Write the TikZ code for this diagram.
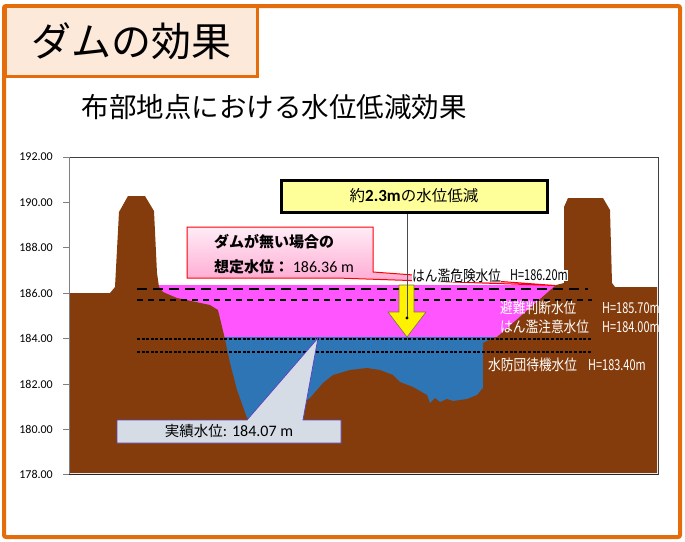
\documentclass[tikz,border=0pt]{standalone}
\usepackage{graphicx}
\usepackage{fontspec}
\setmainfont{Noto Sans CJK JP}
\newfontfamily\numfont{Carlito}
\usetikzlibrary{calc,positioning}

\definecolor{frameorange}{RGB}{228,108,10}
\definecolor{titlefill}{RGB}{253,233,217}
\definecolor{ground}{RGB}{132,60,12}
\definecolor{flood}{RGB}{255,85,255}
\definecolor{river}{RGB}{46,117,182}
\definecolor{notefill}{RGB}{214,220,229}
\definecolor{noteline}{RGB}{88,70,190}
\definecolor{memo}{RGB}{255,255,153}
\definecolor{arrowline}{RGB}{120,120,60}
\definecolor{pinktop}{RGB}{255,236,246}
\definecolor{pinkbot}{RGB}{255,165,208}

\newcommand{\tallname}[1]{\scalebox{1}[1.18]{#1}}
\newcommand{\tallval}[1]{\scalebox{0.86}[1.18]{#1}}

\tikzset{
  lvl/.style={font=\fontsize{12.7}{14}\selectfont, inner sep=0pt, anchor=west},
  ticklabel/.style={font=\numfont\fontsize{12}{14}\selectfont, anchor=east, inner sep=0pt}
}

\begin{document}
\begin{tikzpicture}[x=1pt,y=-1pt]
\useasboundingbox (0,0) rectangle (685,541);

% frame and headings
\draw[frameorange, line width=4pt, rounded corners=2pt] (4,6) rectangle (680,537);
\node[draw=frameorange, line width=3pt, fill=titlefill, minimum width=252pt, minimum height=70pt,
  font=\fontsize{40}{44}\selectfont, inner sep=0pt] (title) at (131,41) {ダムの効果};
\node[font=\fontsize{27.5}{30}\selectfont] (sub) at (274,107) {布部地点における水位低減効果};

% water: without dam, then observed
\fill[flood] (155,285.2) rectangle (560,337.1);
\fill[river] (215,337.1) rectangle (500,421);

% ground section
\fill[ground] (70,473) -- (70,293) -- (110,293) -- (115,287) -- (119,212) -- (128,196)
  -- (145,196) -- (154,211) -- (157,273) -- (159,287) -- (163,292) -- (177,298)
  -- (210,305) -- (218,310) -- (224,335) -- (230,363) -- (237,390) -- (247,418)
  -- (260,416) -- (282,412) -- (300,405) -- (310,398) -- (323,383) -- (333,375)
  -- (350,370) -- (367,368) -- (380,370) -- (393,375) -- (400,382) -- (413,387)
  -- (427,395) -- (430,403) -- (435,398) -- (440,402) -- (447,399) -- (453,401)
  -- (467,399) -- (477,395) -- (483,388) -- (483,343) -- (493,338) -- (497,337)
  -- (556,285) -- (564,283) -- (564,207) -- (568,198) -- (603,198) -- (610,210)
  -- (612,283) -- (615,287) -- (657,287) -- (657,473) -- cycle;

% level lines
\draw[line width=1.9pt, dash pattern=on 10pt off 6pt] (137,288.8) -- (588,288.8);
\draw[line width=1.7pt, dash pattern=on 6pt off 5pt] (137,300.1) -- (592,300.1);
\draw[line width=1.9pt, dash pattern=on 3pt off 1.6pt] (137,338.7) -- (592,338.7);
\draw[line width=1.9pt, dash pattern=on 3pt off 1.6pt] (137,352.4) -- (592,352.4);

% axes
\draw[black!75, line width=0.6pt] (69,157) -- (658,157) -- (658,474.5);
\draw[gray, line width=1pt] (69,157) -- (69,474.5);
\draw[black!85, line width=1.2pt] (63,474.5) -- (658,474.5);
\foreach \v/\y in {178/474.5,180/429.6,182/384.2,184/338.7,186/293.3,188/247.9,190/202.5,192/157.1}{
  \draw[gray, line width=1pt] (63,\y) -- (69,\y);
  \node[ticklabel] at (53,\y) {\v.00};
}

% lowering arrow
\draw[arrowline, fill=yellow, line width=0.6pt] (399,285) -- (414,285) -- (414,312) -- (426,312)
  -- (407,337) -- (388,312) -- (399,312) -- cycle;
\coordinate (tip) at (407,318);
\node[draw=black, line width=3pt, fill=memo, minimum width=266pt, minimum height=32pt,
  font=\fontsize{15.5}{17}\selectfont] (reduce) at (414,196)
  {約{\numfont\bfseries\fontsize{17}{19}\selectfont 2.3m}の水位低減};

% callout: level without dam
\path[draw=red, line width=1pt, top color=pinktop, bottom color=pinkbot]
  (187,227) -- (373,227) -- (373,272) -- (555,285.5) -- (337,278) -- (187,278) -- cycle;
\node[font=\bfseries\fontsize{15}{17}\selectfont, anchor=west, inner sep=0pt] (nodam1) at (214,242) {ダムが無い場合の};
\node[font=\bfseries\fontsize{15}{17}\selectfont, anchor=west, inner sep=0pt] (nodam2) at (214,267)
  {想定水位：{\mdseries\numfont\fontsize{16}{18}\selectfont\ 186.36 m}};

% callout: observed level
\path[draw=noteline, line width=0.8pt, fill=notefill]
  (117,420) -- (247,420) -- (318,338) -- (303,420) -- (341,420) -- (341,443) -- (117,443) -- cycle;
\node[font=\fontsize{14.5}{16}\selectfont] (actual) at (229,431.5)
  {実績水位{\numfont\fontsize{16}{18}\selectfont: 184.07 m}};

% level names
\node[lvl, fill=white] (ldanger) at (412,275.5) {\tallname{はん濫危険水位}};
\node[lvl, fill=white] (hdanger) at (510,275.5) {\tallval{H=186.20m}};
\node[lvl, text=white] (ljudge) at (500,308) {\tallname{避難判断水位}};
\node[lvl, text=white] (hjudge) at (602,308) {\tallval{H=185.70m}};
\node[lvl, text=white] (lwarn) at (500,327) {\tallname{はん濫注意水位}};
\node[lvl, text=white] (hwarn) at (602,327) {\tallval{H=184.00m}};
\node[lvl, text=white] (lstand) at (488,365) {\tallname{水防団待機水位}};
\node[lvl, text=white] (hstand) at (588,365) {\tallval{H=183.40m}};

\draw[black!70, line width=0.6pt] (reduce.south -| tip) -- (tip);
\fill (tip) circle (1.6);

\end{tikzpicture}
\end{document}
